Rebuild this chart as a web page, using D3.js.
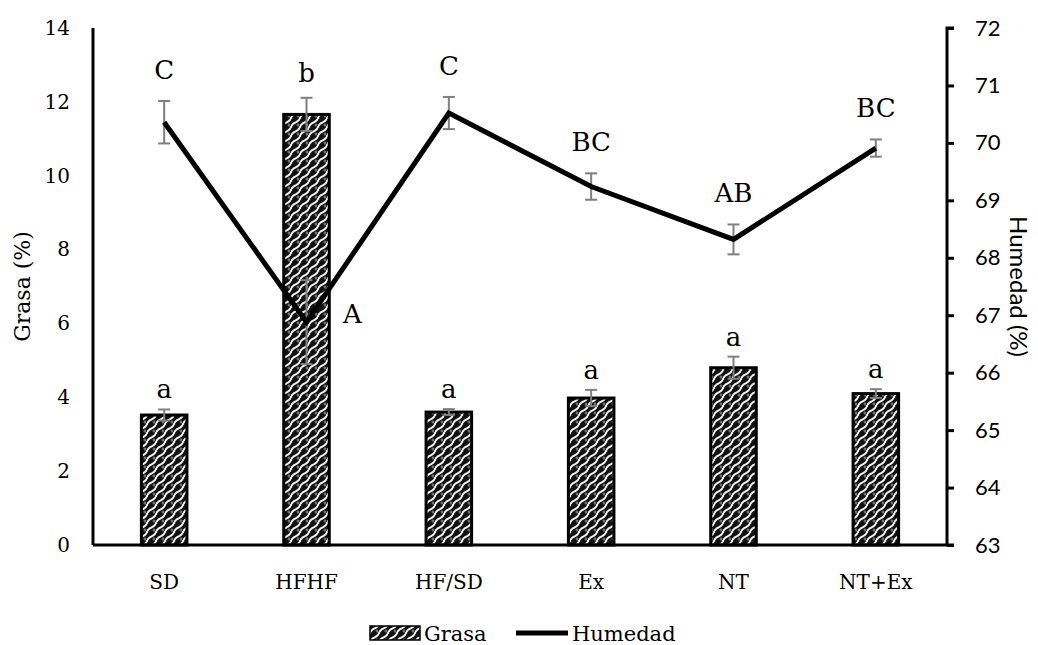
<!DOCTYPE html>
<html>
<head>
<meta charset="utf-8">
<script src="https://cdn.jsdelivr.net/npm/d3@7"></script>
<style>
  body { margin: 0; background: #fff; }
</style>
</head>
<body>
<div class="canvas"></div>
<script>
const categories = ["SD", "HFHF", "HF/SD", "Ex", "NT", "NT+Ex"];
const grasa = [3.52, 11.66, 3.6, 3.98, 4.8, 4.1];
const grasaErr = [0.15, 0.45, 0.08, 0.22, 0.3, 0.12];
const grasaLetters = ["a", "b", "a", "a", "a", "a"];
const humedad = [70.36, 66.88, 70.52, 69.24, 68.32, 69.91];
const humedadErr = [0.37, 0.73, 0.28, 0.23, 0.26, 0.15];
const humedadLetters = ["C", "A", "C", "BC", "AB", "BC"];
const leftTicks = [0, 2, 4, 6, 8, 10, 12, 14];
const rightTicks = [63, 64, 65, 66, 67, 68, 69, 70, 71, 72];

const size = { width: 1038, height: 645 };
const margin = { top: 28, right: 91, bottom: 100, left: 93 };
const graphWidth = size.width - margin.left - margin.right;
const graphHeight = size.height - margin.top - margin.bottom;

const serif = "'DejaVu Serif', serif";
const sans = "Lato, 'Open Sans', sans-serif";

const svg = d3.select(".canvas")
  .append("svg")
  .attr("width", size.width)
  .attr("height", size.height);

// weave-like fill for bars
const defs = svg.append("defs");
const pat = defs.append("pattern")
  .attr("id", "weave")
  .attr("patternUnits", "userSpaceOnUse")
  .attr("width", 9).attr("height", 9);
pat.append("rect").attr("width", 9).attr("height", 9).attr("fill", "#111");
pat.append("path")
  .attr("d", "M-1,10 Q2,5 4.5,4.5 T10,-1 M-4.5,5.5 L1,-1 M8,10 L10,8")
  .attr("stroke", "#f0f0f0").attr("stroke-width", 2).attr("fill", "none");
pat.append("path")
  .attr("d", "M5.5,7 h3 M7,5.5 v3")
  .attr("stroke", "#888").attr("stroke-width", 1.2);

const graph = svg.append("g")
  .attr("transform", `translate(${margin.left}, ${margin.top})`);

// scales
const xScale = d3.scaleBand()
  .domain(categories)
  .range([0, graphWidth])
  .paddingInner(0.68)
  .paddingOuter(0.34);
const yLeft = d3.scaleLinear().domain([0, 14]).range([graphHeight, 0]);
const yRight = d3.scaleLinear().domain([63, 72]).range([graphHeight, 0]);
const cx = c => xScale(c) + xScale.bandwidth() / 2;

// bars
graph.selectAll("rect.bar")
  .data(categories)
  .enter()
  .append("rect")
  .attr("class", "bar")
  .attr("x", d => xScale(d))
  .attr("y", (d, i) => yLeft(grasa[i]))
  .attr("width", xScale.bandwidth())
  .attr("height", (d, i) => graphHeight - yLeft(grasa[i]))
  .attr("fill", "url(#weave)")
  .attr("stroke", "#000")
  .attr("stroke-width", 3);

// error bars helper
const errorBars = (vals, errs, scale, cls) => {
  const g = graph.append("g").attr("class", cls)
    .attr("stroke", "#7f7f7f").attr("stroke-width", 2);
  categories.forEach((c, i) => {
    const x = cx(c);
    const y1 = scale(vals[i] + errs[i]);
    const y2 = scale(vals[i] - errs[i]);
    g.append("line").attr("x1", x).attr("x2", x).attr("y1", y1).attr("y2", y2);
    g.append("line").attr("x1", x - 6).attr("x2", x + 6).attr("y1", y1).attr("y2", y1);
    g.append("line").attr("x1", x - 6).attr("x2", x + 6).attr("y1", y2).attr("y2", y2);
  });
};
errorBars(grasa, grasaErr, yLeft, "err-grasa");
errorBars(humedad, humedadErr, yRight, "err-hum");

// humidity line
const line = d3.line()
  .x((d, i) => cx(categories[i]))
  .y(d => yRight(d));
graph.append("path")
  .datum(humedad)
  .attr("d", line)
  .attr("fill", "none")
  .attr("stroke", "#000")
  .attr("stroke-width", 5)
  .attr("stroke-linejoin", "miter");

// letters
graph.selectAll("text.lg")
  .data(categories)
  .enter()
  .append("text")
  .attr("class", "lg")
  .attr("x", d => cx(d))
  .attr("y", (d, i) => yLeft(grasa[i] + grasaErr[i]) - (i === 1 ? 16 : 11))
  .attr("text-anchor", "middle")
  .style("font-family", serif)
  .style("font-size", "26px")
  .text((d, i) => grasaLetters[i]);

graph.selectAll("text.lh")
  .data(categories)
  .enter()
  .append("text")
  .attr("class", "lh")
  .attr("x", (d, i) => i === 1 ? cx(d) + 46 : cx(d))
  .attr("y", (d, i) => i === 1 ? yRight(humedad[i]) + 1 : yRight(humedad[i] + humedadErr[i]) - 22)
  .attr("text-anchor", "middle")
  .style("font-family", serif)
  .style("font-size", "26px")
  .text((d, i) => humedadLetters[i]);

// axes
const leftAxis = graph.append("g")
  .call(d3.axisLeft(yLeft).tickValues(leftTicks).tickSize(0).tickPadding(23));
const rightAxis = graph.append("g")
  .attr("transform", `translate(${graphWidth}, 0)`)
  .call(d3.axisRight(yRight).tickValues(rightTicks).tickSize(7).tickPadding(21));
const bottomAxis = graph.append("g")
  .attr("transform", `translate(0, ${graphHeight})`)
  .call(d3.axisBottom(xScale).tickSize(0).tickPadding(30));

[leftAxis, rightAxis, bottomAxis].forEach(a => {
  a.select(".domain").attr("stroke", "#000").attr("stroke-width", 3);
  a.selectAll(".tick line").attr("stroke", "#000").attr("stroke-width", 3);
  a.selectAll("text").attr("fill", "#000");
});
bottomAxis.select(".domain").attr("d", `M0,0H${graphWidth + 7}`);
leftAxis.select(".domain").attr("d", `M0,0V${graphHeight}`);
rightAxis.select(".domain").attr("d", `M7,0H0V${graphHeight}`);
leftAxis.selectAll("text").style("font-family", serif).style("font-size", "20px");
bottomAxis.selectAll("text").style("font-family", serif).style("font-size", "20px");
rightAxis.selectAll("text").style("font-family", sans).style("font-size", "22px");

// axis titles
svg.append("text")
  .attr("transform", `translate(30, ${margin.top + graphHeight / 2}) rotate(-90)`)
  .attr("text-anchor", "middle")
  .style("font-family", serif)
  .style("font-size", "22px")
  .text("Grasa (%)");
svg.append("text")
  .attr("transform", `translate(1010, ${margin.top + graphHeight / 2}) rotate(90)`)
  .attr("text-anchor", "middle")
  .style("font-family", sans)
  .style("font-size", "24px")
  .text("Humedad (%)");

// legend
const legend = svg.append("g").attr("transform", "translate(370, 633)");
legend.append("rect")
  .attr("x", 0).attr("y", -7).attr("width", 50).attr("height", 14)
  .attr("fill", "url(#weave)").attr("stroke", "#000").attr("stroke-width", 1.5);
legend.append("text")
  .attr("x", 54).attr("y", 8)
  .style("font-family", serif).style("font-size", "21px")
  .text("Grasa");
legend.append("line")
  .attr("x1", 146).attr("x2", 198).attr("y1", 0).attr("y2", 0)
  .attr("stroke", "#000").attr("stroke-width", 5);
legend.append("text")
  .attr("x", 202).attr("y", 8)
  .style("font-family", serif).style("font-size", "21px")
  .text("Humedad");
</script>
</body>
</html>
